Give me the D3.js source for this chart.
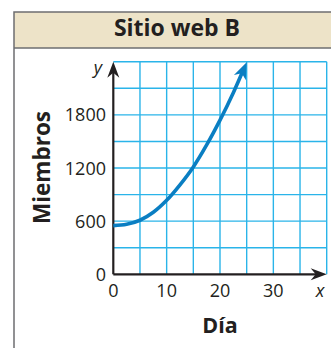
<!DOCTYPE html>
<html>
<head>
<meta charset="utf-8">
<script src="https://cdn.jsdelivr.net/npm/d3@7"></script>
<style>
  html, body { margin: 0; padding: 0; background: #fff; }
  svg { display: block; }
  text { font-family: "Open Sans", "Noto Sans", sans-serif; fill: #231f20; }
</style>
</head>
<body>
<svg id="chart" width="331" height="348"></svg>
<script>
// Members of website B by day
const days    = [0, 2.5, 5, 7.5, 10, 12.5, 15, 17.5, 20, 22.5, 25];
const members = [550, 565, 610, 700, 835, 1010, 1212, 1460, 1740, 2050, 2395];

const xTicks = [0, 10, 20, 30];
const yTicks = [0, 600, 1200, 1800];
const title  = "Sitio web B";
const xLabel = "Día";
const yLabel = "Miembros";

const svg = d3.select("#chart");

// panel frame and header band
svg.append("rect").attr("x", 14).attr("y", 12).attr("width", 330).attr("height", 36)
  .attr("fill", "#ede3c8");
svg.append("path").attr("d", "M14,348 V12 H331").attr("fill", "none")
  .attr("stroke", "#6d6e70").attr("stroke-width", 1.5);
svg.append("line").attr("x1", 14).attr("x2", 331).attr("y1", 48).attr("y2", 48)
  .attr("stroke", "#6d6e70").attr("stroke-width", 1.5);
svg.append("text").attr("x", 177).attr("y", 36).attr("text-anchor", "middle")
  .attr("font-size", 23).attr("font-weight", 700).text(title);

const x = d3.scaleLinear().domain([0, 40]).range([113.3, 326.7]);
const y = d3.scaleLinear().domain([0, 2400]).range([274.3, 61.7]);

// grid
const grid = svg.append("g").attr("stroke", "#2ab4e9").attr("stroke-width", 1.4);
grid.selectAll(".gv").data(d3.range(5, 41, 5)).join("line")
  .attr("x1", d => x(d)).attr("x2", d => x(d)).attr("y1", y(0)).attr("y2", y(2400));
grid.selectAll(".gh").data(d3.range(300, 2401, 300)).join("line")
  .attr("x1", x(0)).attr("x2", x(40)).attr("y1", d => y(d)).attr("y2", d => y(d));

// axes with arrowheads
const axisColor = "#231f20";
svg.append("line").attr("x1", x(0)).attr("x2", x(40) - 10).attr("y1", y(0)).attr("y2", y(0))
  .attr("stroke", axisColor).attr("stroke-width", 2.2);
svg.append("path")
  .attr("d", `M${x(40)},${y(0)} L${x(40) - 16},${y(0) - 6} L${x(40) - 11},${y(0)} L${x(40) - 16},${y(0) + 6} Z`)
  .attr("fill", axisColor);
svg.append("line").attr("x1", x(0)).attr("x2", x(0)).attr("y1", y(0)).attr("y2", y(2400) + 10)
  .attr("stroke", axisColor).attr("stroke-width", 2.2);
svg.append("path")
  .attr("d", `M${x(0)},${y(2400)} L${x(0) - 6},${y(2400) + 16} L${x(0)},${y(2400) + 11} L${x(0) + 6},${y(2400) + 16} Z`)
  .attr("fill", axisColor);

// tick labels
svg.selectAll(".xt").data(xTicks).join("text")
  .attr("x", d => x(d)).attr("y", 297).attr("text-anchor", "middle")
  .attr("font-size", 18).text(d => d);
svg.selectAll(".yt").data(yTicks).join("text")
  .attr("x", 106).attr("y", d => y(d) + 6.5).attr("text-anchor", "end")
  .attr("font-size", 18).text(d => d);
svg.append("text").attr("x", 320).attr("y", 297).attr("text-anchor", "middle")
  .attr("font-size", 18).attr("font-style", "italic").text("x");
svg.append("text").attr("x", 98).attr("y", 74).attr("text-anchor", "middle")
  .attr("font-size", 18).attr("font-style", "italic").text("y");

// axis titles
svg.append("text").attr("x", 220).attr("y", 333).attr("text-anchor", "middle")
  .attr("font-size", 21.5).attr("font-weight", 700).text(xLabel);
svg.append("text").attr("transform", "translate(50,167.5) rotate(-90)")
  .attr("text-anchor", "middle").attr("font-size", 22.5).attr("font-weight", 700).text(yLabel);

// growth curve with arrow at its end
const curveColor = "#0a7ec2";
const pts = days.map((d, i) => [d, members[i]]);
const line = d3.line().x(d => x(d[0])).y(d => y(d[1])).curve(d3.curveCatmullRom.alpha(0.5));
const last = pts[pts.length - 1], prev = pts[pts.length - 2];
const tipX = x(last[0]), tipY = y(last[1]);
const ang = Math.atan2(tipY - y(prev[1]), tipX - x(prev[0]));
const path = svg.append("path").datum(pts).attr("d", line)
  .attr("fill", "none").attr("stroke", curveColor).attr("stroke-width", 3.6)
  .attr("stroke-linecap", "butt");
// trim the stroke so it ends inside the arrowhead
const total = path.node().getTotalLength();
path.attr("stroke-dasharray", `${total - 9} ${total}`);
const ah = 17, aw = 6.5;
const bx = tipX - ah * Math.cos(ang), by = tipY - ah * Math.sin(ang);
const nx = -Math.sin(ang), ny = Math.cos(ang);
const mx = tipX - (ah - 5) * Math.cos(ang), my = tipY - (ah - 5) * Math.sin(ang);
svg.append("path")
  .attr("d", `M${tipX},${tipY} L${bx + nx * aw},${by + ny * aw} L${mx},${my} L${bx - nx * aw},${by - ny * aw} Z`)
  .attr("fill", curveColor);
</script>
</body>
</html>
